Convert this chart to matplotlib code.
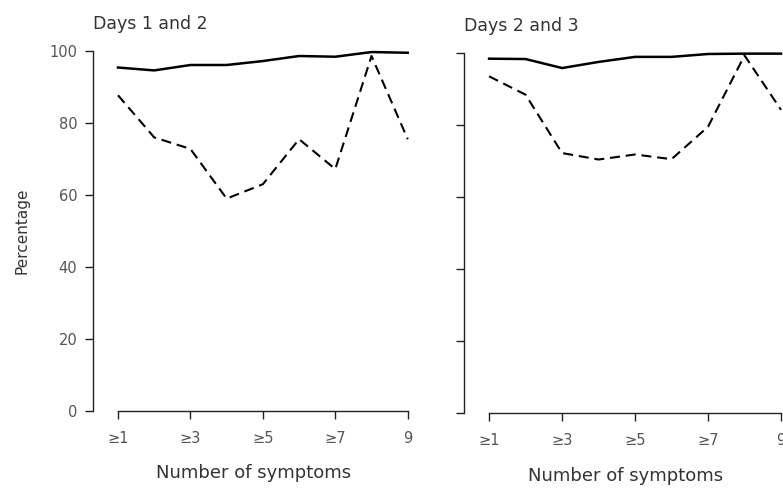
import numpy as np
import matplotlib.pyplot as plt

plt.rcParams['font.family'] = ['DejaVu Sans']

symptoms = [1, 2, 3, 4, 5, 6, 7, 8, 9]
tick_pos = [1, 3, 5, 7, 9]
tick_labels = ['≥1', '≥3', '≥5', '≥7', '9']
y_ticks = [0, 20, 40, 60, 80, 100]

# Days 1 and 2
solid_12 = [95.4, 94.6, 96.1, 96.1, 97.2, 98.6, 98.4, 99.7, 99.5]
dashed_12 = [87.7, 76.0, 72.8, 59.0, 63.0, 75.5, 67.2, 98.6, 75.5]

# Days 2 and 3
solid_23 = [98.4, 98.3, 95.8, 97.5, 98.9, 98.9, 99.7, 99.8, 99.8]
dashed_23 = [93.5, 88.4, 72.2, 70.4, 71.8, 70.5, 79.5, 99.3, 84.2]

text_col = '#333333'

fig = plt.figure(figsize=(7.83, 4.90), dpi=100)
ax1 = fig.add_axes([0.1183, 0.161, 0.4117, 0.735])
ax2 = fig.add_axes([0.592, 0.157, 0.4148, 0.735])


def style_panel(ax, title, show_ylabels, xlabel_pad):
    ax.set_xlim(0.3, 9.2)
    ax.set_ylim(0, 100)
    for s in ['top', 'right']:
        ax.spines[s].set_visible(False)
    ax.spines['bottom'].set_bounds(1, 9)
    ax.spines['left'].set_bounds(0, 100)
    for s in ['bottom', 'left']:
        ax.spines[s].set_linewidth(1.0)
        ax.spines[s].set_color('#222222')
    ax.set_xticks(tick_pos)
    ax.set_xticklabels(tick_labels)
    ax.set_yticks(y_ticks)
    if not show_ylabels:
        ax.set_yticklabels([])
    ax.tick_params(axis='both', direction='out', length=6, width=1.0,
                   colors='#222222', labelcolor='#555555', labelsize=10.5, pad=5)
    ax.tick_params(axis='x', pad=8)
    ax.set_xlabel('Number of symptoms', fontsize=13, color=text_col,
                  labelpad=xlabel_pad)
    ax.text(0.0, 1.05, title, transform=ax.transAxes, fontsize=12.5,
            color=text_col, ha='left', va='bottom')
    ax.patch.set_alpha(0)


ax1.plot(symptoms, solid_12, color='black', linewidth=1.8, clip_on=False)
ax1.plot(symptoms, dashed_12, color='black', linewidth=1.5,
         dashes=(4.8, 2.8), clip_on=False)
style_panel(ax1, 'Days 1 and 2', True, 13)
ax1.set_ylabel('Percentage', fontsize=11, color=text_col, labelpad=14)

ax2.plot(symptoms, solid_23, color='black', linewidth=1.8, clip_on=False)
ax2.plot(symptoms, dashed_23, color='black', linewidth=1.5,
         dashes=(4.8, 2.8), clip_on=False)
style_panel(ax2, 'Days 2 and 3', False, 14)

fig.savefig('out.png', dpi=100)
